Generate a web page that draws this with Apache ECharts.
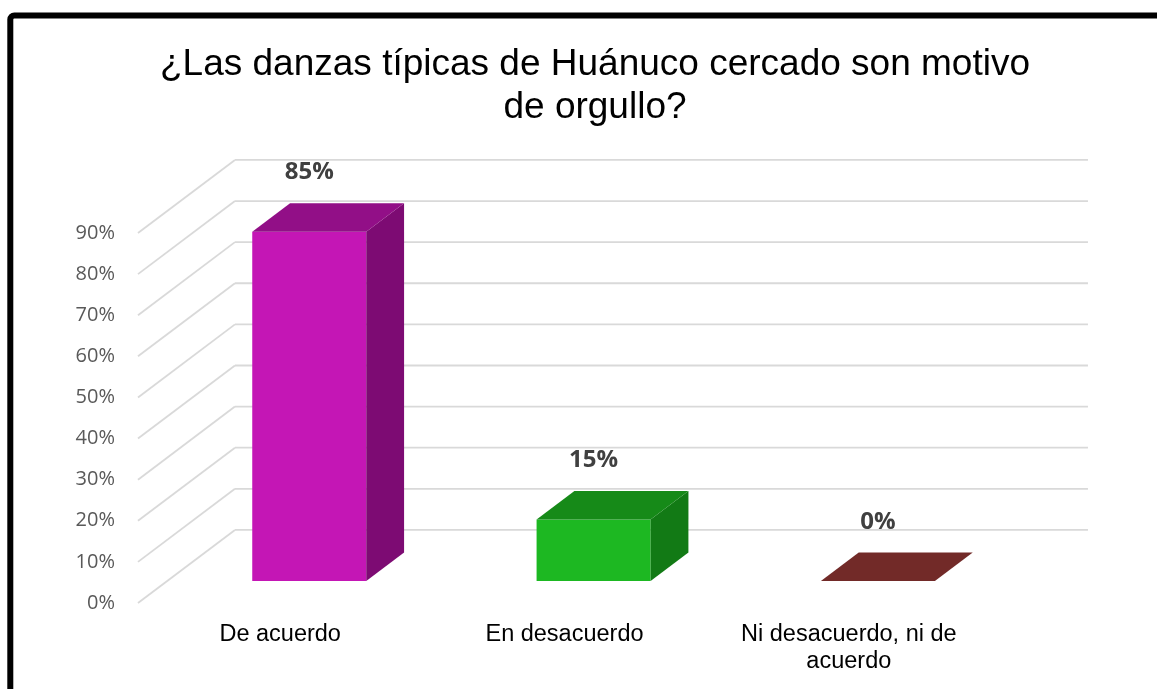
<!DOCTYPE html>
<html>
<head>
<meta charset="utf-8">
<script src="https://cdn.jsdelivr.net/npm/echarts@6/dist/echarts.min.js"></script>
<style>
html,body{margin:0;padding:0;background:#fff;}
#chart{width:1157px;height:689px;}
</style>
</head>
<body>
<div id="chart"></div>
<script>
// ---- data ----
const titleText = '¿Las danzas típicas de Huánuco cercado son motivo\nde orgullo?';
const categories = ['De acuerdo', 'En desacuerdo', 'Ni desacuerdo, ni de\nacuerdo'];
const values = [85, 15, 0];
const valueLabels = ['85%', '15%', '0%'];
const yTicks = [0, 10, 20, 30, 40, 50, 60, 70, 80, 90];

// ---- styles ----
const faceColors = [
  { front: '#C416B5', top: '#920F87', side: '#7D0B73' },
  { front: '#1DB822', top: '#168A18', side: '#127A15' },
  { front: '#8A3330', top: '#722A28', side: '#5E2220' }
];
const DEPTH_X = 0.341, DEPTH_Y = 0.257; // floor depth as fraction of band width
const BAR_W = 0.401, BAR_OFF = 0.3, BAR_DEP = 0.39;
const GRID_COLOR = '#D9D9D9';

const chart = echarts.init(document.getElementById('chart'), null, { renderer: 'canvas' });

function renderWall(params, api) {
  const cs = params.coordSys;
  const v = api.value(1);
  const y = api.coord([0, v])[1];
  const band = api.size([1, 0])[0];
  const dx = band * DEPTH_X, dy = band * DEPTH_Y;
  const x0 = cs.x, x1 = cs.x + cs.width;
  const st = { stroke: GRID_COLOR, lineWidth: 1.8 };
  return {
    type: 'group',
    children: [
      { type: 'line', shape: { x1: x0, y1: y, x2: x0 + dx, y2: y - dy }, style: st },
      { type: 'line', shape: { x1: x0 + dx, y1: y - dy, x2: x1 + dx, y2: y - dy }, style: st }
    ]
  };
}

function renderBar(params, api) {
  const i = api.value(0);
  const v = api.value(1);
  const band = api.size([1, 0])[0];
  const dx = band * DEPTH_X, dy = band * DEPTH_Y;
  const c = api.coord([i, v]);
  const b = api.coord([i, 0]);
  const w = band * BAR_W;
  const xL = c[0] + BAR_OFF * dx - w / 2, xR = xL + w;
  const yT = c[1] - BAR_OFF * dy, yB = b[1] - BAR_OFF * dy;
  const ddx = BAR_DEP * dx, ddy = BAR_DEP * dy;
  const col = faceColors[i];
  const children = [];
  if (yB - yT > 0.5) {
    children.push({ type: 'rect', shape: { x: xL, y: yT, width: w, height: yB - yT }, style: { fill: col.front } });
    children.push({ type: 'polygon', shape: { points: [[xR, yT], [xR + ddx, yT - ddy], [xR + ddx, yB - ddy], [xR, yB]] }, style: { fill: col.side } });
  }
  children.push({ type: 'polygon', shape: { points: [[xL, yT], [xR, yT], [xR + ddx, yT - ddy], [xL + ddx, yT - ddy]] }, style: { fill: col.top } });
  children.push({
    type: 'text',
    style: {
      x: (xL + xR) / 2, y: yT - 59, text: valueLabels[i],
      align: 'center', verticalAlign: 'middle',
      fontFamily: 'Open Sans', fontWeight: 'bold', fontSize: 24, fill: '#404040'
    }
  });
  return { type: 'group', children: children };
}

const option = {
  backgroundColor: '#ffffff',
  animation: false,
  title: {
    text: titleText,
    left: 590,
    top: 38,
    textAlign: 'center',
    textStyle: {
      fontFamily: 'Liberation Sans',
      fontSize: 37,
      fontWeight: 'normal',
      color: '#000000',
      lineHeight: 43
    }
  },
  graphic: [{
    type: 'rect',
    shape: { x: 10.3, y: 15.5, width: 1400, height: 1000, r: 4 },
    style: { fill: 'none', stroke: '#000000', lineWidth: 6 },
    z: 100
  }],
  grid: { left: 138, top: 233, width: 853, height: 370 },
  xAxis: {
    type: 'category',
    data: categories,
    axisLine: { show: false },
    axisTick: { show: false },
    axisLabel: {
      interval: 0, margin: 18, color: '#000000',
      fontFamily: 'Liberation Sans', fontSize: 23.5, lineHeight: 27
    }
  },
  yAxis: {
    type: 'value',
    min: 0, max: 90, interval: 10,
    axisLine: { show: false },
    axisTick: { show: false },
    splitLine: { show: false },
    axisLabel: {
      formatter: '{value}%', margin: 23, color: '#595959',
      fontFamily: 'Open Sans', fontSize: 20
    }
  },
  series: [
    {
      type: 'custom',
      renderItem: renderWall,
      data: yTicks.map(v => [0, v]),
      z: 1, silent: true
    },
    {
      type: 'custom',
      renderItem: renderBar,
      data: values.map((v, i) => [i, v]),
      z: 2
    }
  ]
};
chart.setOption(option);
</script>
</body>
</html>
